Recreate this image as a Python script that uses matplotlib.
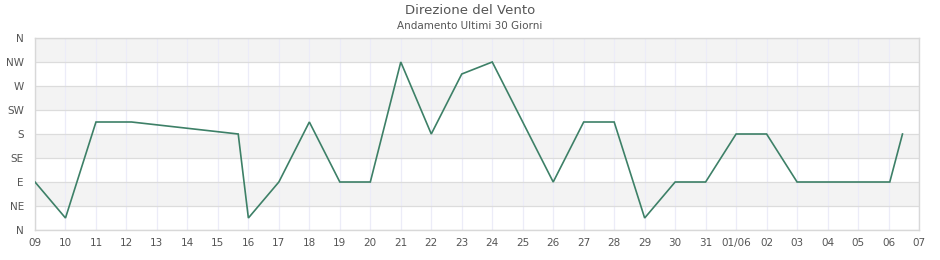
import matplotlib
matplotlib.use("Agg")
import matplotlib.pyplot as plt
import matplotlib.dates as mdates
import pandas as pd

# ---- data ----
times = [
    "2024-05-09 00:00", "2024-05-10 00:00", "2024-05-11 00:00", "2024-05-12 04:00",
    "2024-05-15 16:00", "2024-05-16 00:00", "2024-05-17 00:00", "2024-05-18 00:00",
    "2024-05-19 00:00", "2024-05-20 00:00", "2024-05-21 00:00", "2024-05-22 00:00",
    "2024-05-23 00:00", "2024-05-24 00:00", "2024-05-26 00:00", "2024-05-27 00:00",
    "2024-05-28 00:00", "2024-05-29 00:00", "2024-05-30 00:00", "2024-05-31 00:00",
    "2024-06-01 00:00", "2024-06-02 00:00", "2024-06-03 00:00", "2024-06-04 00:00",
    "2024-06-05 00:00", "2024-06-06 01:00", "2024-06-06 11:00",
]
direction = [
    90, 22.5, 202.5, 202.5,
    180, 22.5, 90, 202.5,
    90, 90, 315, 180,
    292.5, 315, 90, 202.5,
    202.5, 22.5, 90, 90,
    180, 180, 90, 90,
    90, 90, 180,
]
y_ticks = [0, 45, 90, 135, 180, 225, 270, 315, 360]
y_labels = ["N", "NE", "E", "SE", "S", "SW", "W", "NW", "N"]
x_tick_dates = pd.date_range("2024-05-09", "2024-06-07", freq="D")
x_labels = [("01/06" if (d.month == 6 and d.day == 1) else f"{d.day:02d}") for d in x_tick_dates]

title = "Direzione del Vento"
subtitle = "Andamento Ultimi 30 Giorni"

# ---- plot ----
fig = plt.figure(figsize=(9.4, 2.6), dpi=100)
ax = fig.add_axes([35/940, 1-230/260, (919-35)/940, (230-38)/260])

t = pd.to_datetime(times)
for i in range(len(y_ticks) - 1):
    if i % 2 == 1:
        ax.axhspan(y_ticks[i], y_ticks[i+1], color="#f3f3f3", zorder=0, lw=0)

ax.plot(t, direction, color="#3d8067", lw=1.2, zorder=3, solid_joinstyle="miter")

ax.set_xlim(x_tick_dates[0], x_tick_dates[-1])
ax.set_ylim(0, 360)
ax.set_yticks(y_ticks)
ax.set_yticklabels(y_labels)
ax.set_xticks(x_tick_dates)
ax.set_xticklabels(x_labels)

ax.grid(axis="y", color="#dcdcdc", lw=0.9, zorder=1)
ax.grid(axis="x", color="#ececf8", lw=0.9, zorder=1)
ax.set_axisbelow(True)

ax.tick_params(axis="both", length=0, labelsize=7.5, colors="#555555")
ax.tick_params(axis="x", pad=6)
ax.tick_params(axis="y", pad=8)
for side, sp in ax.spines.items():
    sp.set_color("#d8d8d8")
    sp.set_linewidth(1.0)

fig.text(0.5, 1-10/260, title, ha="center", va="center", fontsize=9.5, color="#555555")
fig.text(0.5, 1-26/260, subtitle, ha="center", va="center", fontsize=7.5, color="#555555")

fig.savefig("out.png", dpi=100)
